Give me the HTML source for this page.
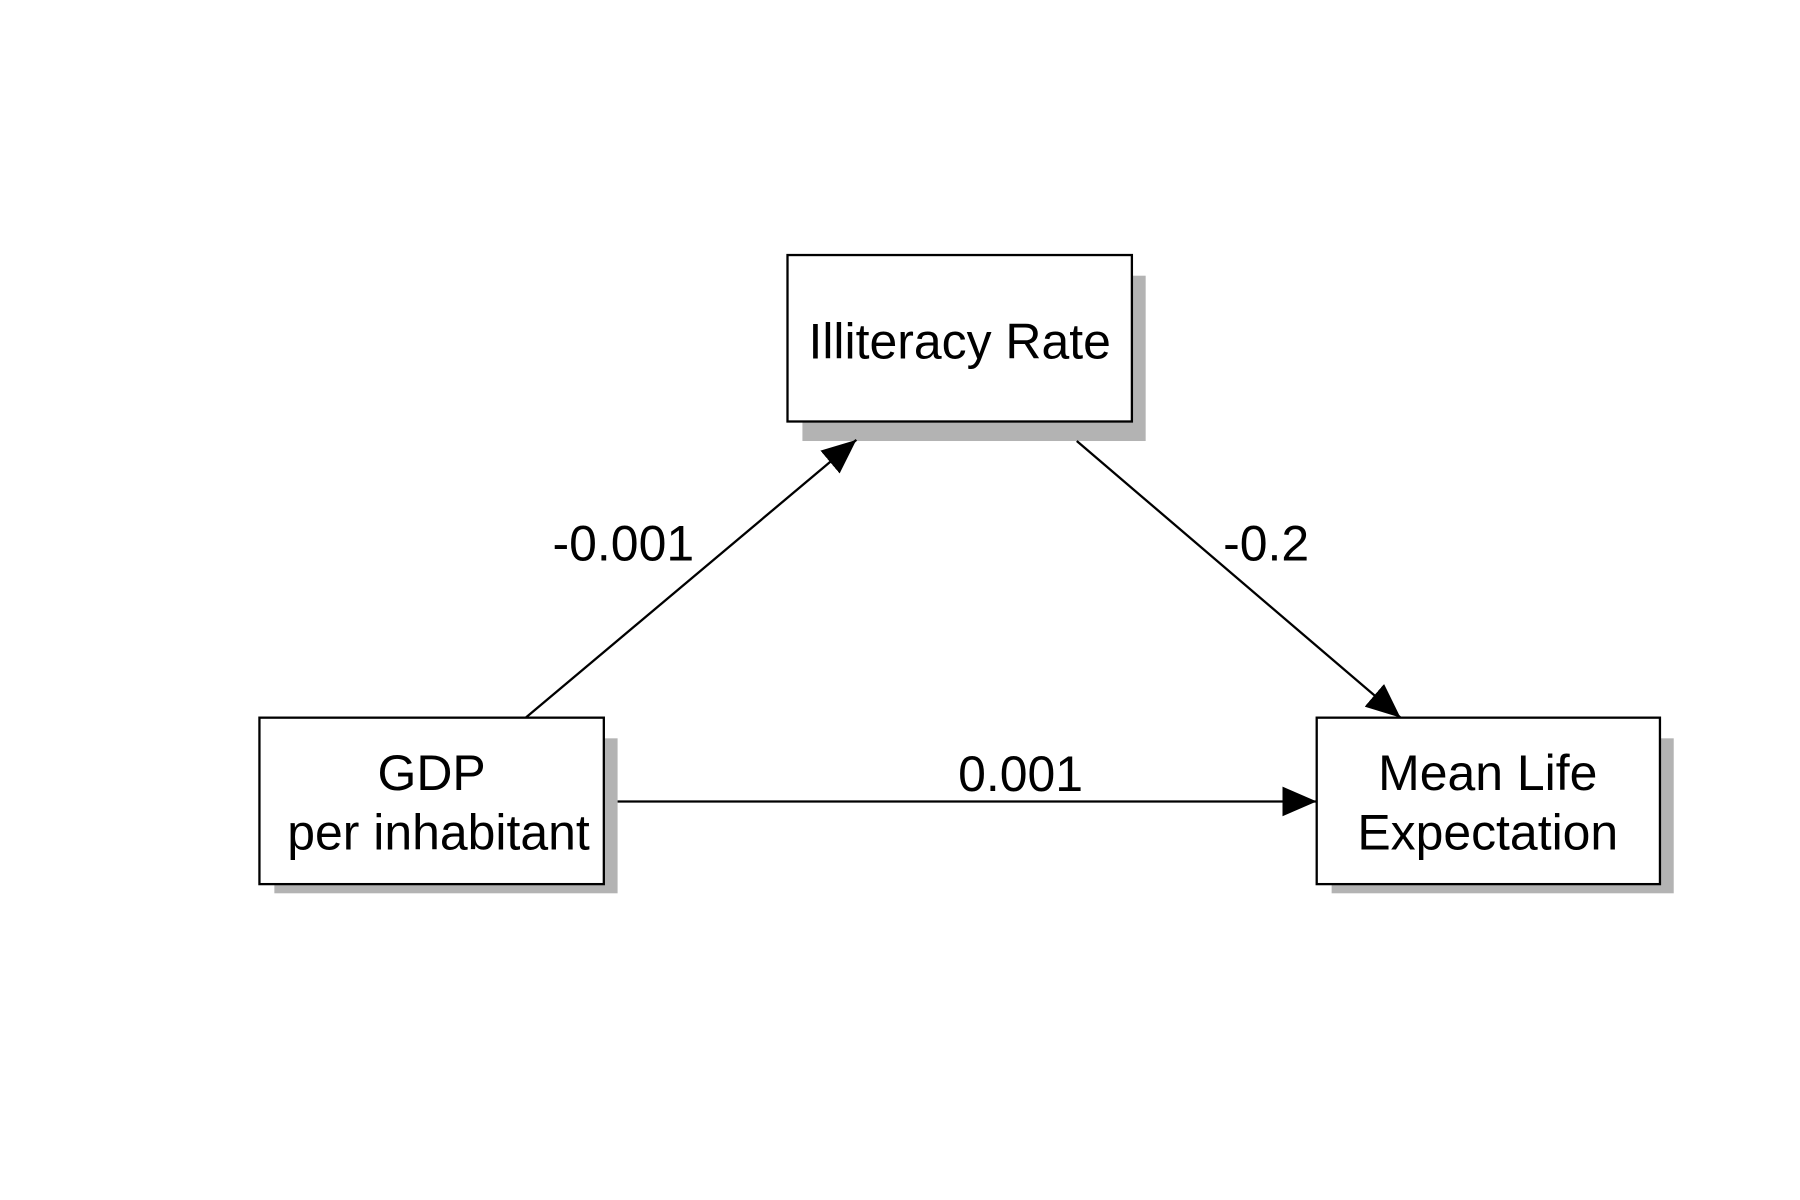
<!DOCTYPE html>
<html><head><style>html,body{margin:0;padding:0;background:#fff;width:1800px;height:1200px;overflow:hidden}</style></head>
<body>
<svg width="1800" height="1200" viewBox="0 0 1568 1045" xmlns="http://www.w3.org/2000/svg" font-family="Liberation Sans, Arial, sans-serif">
<rect width="1568" height="1045" fill="#fff"/>
<defs>
<marker id="b" markerWidth="30" markerHeight="26" refX="30" refY="13" orient="auto" markerUnits="userSpaceOnUse"><path d="M0,0 L30,13 L0,26 z" fill="#000"/></marker></defs>
<rect x="699" y="240" width="299" height="144" fill="#b3b3b3"/>
<rect x="686" y="222" width="300" height="145" fill="#fff" stroke="#000" stroke-width="2"/>
<rect x="239" y="643" width="299" height="135" fill="#b3b3b3"/>
<rect x="226" y="625" width="300" height="145" fill="#fff" stroke="#000" stroke-width="2"/>
<rect x="1160" y="643" width="298" height="135" fill="#b3b3b3"/>
<rect x="1147" y="625" width="299" height="145" fill="#fff" stroke="#000" stroke-width="2"/>
<line x1="458" y1="625" x2="746" y2="383" stroke="#000" stroke-width="2" marker-end="url(#b)"/>
<line x1="938" y1="384" x2="1220" y2="625" stroke="#000" stroke-width="2" marker-end="url(#b)"/>
<line x1="538" y1="698" x2="1147" y2="698" stroke="#000" stroke-width="2" marker-end="url(#b)"/>
<g font-size="43.5" fill="#000" text-anchor="middle">
<text x="836" y="312">Illiteracy Rate</text>
<text x="376" y="688">GDP</text>
<text x="382" y="740">per inhabitant</text>
<text x="1296" y="688">Mean Life</text>
<text x="1296" y="740">Expectation</text>
<text x="543" y="488">-0.001</text>
<text x="1103" y="488">-0.2</text>
<text x="889" y="689">0.001</text>
</g>
</svg>
</body></html>
